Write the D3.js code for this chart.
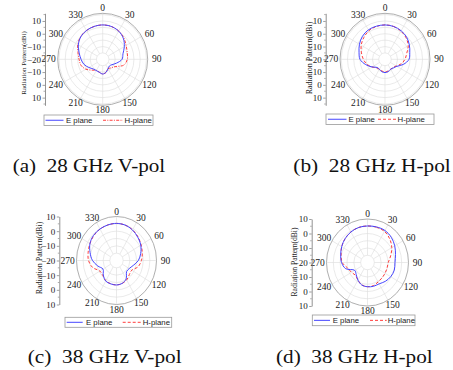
<!DOCTYPE html>
<html><head><meta charset="utf-8">
<script src="https://cdn.jsdelivr.net/npm/d3@7"></script>
<style>
html,body{margin:0;padding:0;background:#fff;}
svg{display:block;}
</style></head>
<body>
<svg id="chart" width="453" height="370"></svg>
<script>
// ---- data ----
const angles = [0,15,30,45,60,75,90,105,120,135,150,165,180,195,210,225,240,255,270,285,300,315,330,345];
const angleLabels = [0,30,60,90,120,150,180,210,240,270,300,330];
const seriesNames = ["E plane","H-plane"];
const captions = ["(a)\u00A0 28 GHz V-pol","(b)\u00A0 28 GHz H-pol","(c)\u00A0 38 GHz V-pol","(d)\u00A0 38 GHz H-pol"];
const axisTitle = "Radiation Pattern(dBi)";
const radialTickLabels = [-20,-10,0,10];

const e28V = [6.9,6.6,5.5,3.3,0.0,-3.2,-4.5,-8.5,-11.5,-12.5,-11.5,-9.5,-8.5,-9.5,-9.8,-9.3,-7.2,-4.5,-2.7,-0.5,2.5,4.8,6.0,6.6];
const h28V = [6.9,6.6,5.6,3.8,1.6,0.3,-0.3,-2.5,-8.5,-10.5,-11.5,-9.5,-8.5,-9.5,-10.0,-8.0,-4.5,-2.0,-1.1,0.5,3.0,5.0,6.0,6.6];
const e28H = [6.9,6.6,5.8,4.5,2.5,0.5,-0.8,-4.7,-9.0,-10.5,-11.0,-10.0,-9.6,-10.0,-11.0,-11.0,-8.0,-4.0,0.0,1.5,3.6,5.5,6.6,6.8];
const h28H = [6.9,6.6,5.5,3.8,1.5,-2.0,-4.0,-6.5,-9.5,-11.0,-11.0,-10.5,-10.2,-10.5,-11.0,-10.5,-8.0,-5.0,-2.7,-0.5,2.0,4.0,5.8,6.6];
const e38V = [5.3,5.0,4.0,2.5,1.0,-1.2,-3.6,-7.0,-9.0,-9.3,-5.5,-3.8,-3.3,-3.5,-3.8,-6.0,-8.3,-5.5,-2.0,0.5,3.0,4.3,4.8,5.1];
const h38V = [5.3,5.0,4.1,2.8,1.3,0.0,-1.3,-3.3,-6.8,-6.4,-4.7,-3.8,-3.3,-3.6,-4.0,-5.5,-5.6,-1.5,1.0,2.0,3.0,4.0,4.7,5.1];
const e38H = [5.2,5.4,5.5,4.6,3.0,1.2,0.1,0.3,-0.4,-1.6,-3.0,-3.0,-3.3,-3.9,-6.0,-8.3,-9.2,-3.5,-1.0,0.3,1.8,3.2,4.3,5.0];
const h38H = [5.2,5.2,4.8,3.0,0.5,-2.5,-4.8,-5.2,-5.2,-5.0,-4.5,-3.5,-3.3,-4.0,-6.0,-7.5,-6.5,-5.0,-1.5,0.0,1.8,3.2,4.3,5.0];

// ---- layout config ----
const panels = [
  {cx:102.7, cy:59.3, rx:45, ry:46, max:16, E:e28V, H:h28V, dash:"3,1.3,1,1.3",
   axisX:45, titleX:24, titleY:63, titleSize:7, cap:captions[0], capX:12.7, capW:152.5, capY:172,
   leg:{x:44,y:115,w:109,h:10.5, l1:[45.5,63.5], t1:66, l2:[103,123], t2:124.5}},
  {cx:385, cy:59.3, rx:45, ry:46, max:16, E:e28H, H:h28H, dash:"3,2",
   axisX:325.7, titleX:309, titleY:58, titleSize:8, cap:captions[1], capX:293.3, capW:157.5, capY:172,
   leg:{x:326,y:114,w:108,h:10.5, l1:[328,346.5], t1:348.5, l2:[378,396], t2:397.5}},
  {cx:116.5, cy:260.5, rx:40, ry:44, max:10, E:e38V, H:h38V, dash:"3,2",
   axisX:59.3, titleX:39.5, titleY:258, titleSize:8, cap:captions[2], capX:27.7, capW:154, capY:363.3,
   leg:{x:65,y:317.3,w:106.7,h:10, l1:[66.7,82.7], t1:86, l2:[122.7,141.7], t2:142.7}},
  {cx:367.5, cy:262.5, rx:41, ry:43.5, max:10, E:e38H, H:h38H, dash:"3,2",
   axisX:311.7, titleX:294, titleY:262, titleSize:7.6, cap:captions[3], capX:276, capW:156.7, capY:363.3,
   leg:{x:312.3,y:315,w:102.7,h:10.7, l1:[314,330], t1:332.7, l2:[370,386.7], t2:387.7}}
];

const serif = "'Liberation Serif','Times New Roman',serif";
const sans = "'Liberation Sans',Arial,sans-serif";
const blue = "#4646ff", red = "#ff3c3c";

const svg = d3.select("#chart");

panels.forEach(p => {
  const g = svg.append("g");
  const r = d3.scaleLinear().domain([-20, p.max]).range([0, 1]);
  const rad = d => d * Math.PI / 180;
  const px = (a, v) => p.cx + p.rx * r(v) * Math.sin(rad(a));
  const py = (a, v) => p.cy - p.ry * r(v) * Math.cos(rad(a));

  // grid circles
  const gridVals = d3.range(-15, p.max + 0.01, 5).filter(v => v < p.max - 0.5);
  g.selectAll(".grid").data(gridVals).join("ellipse")
    .attr("cx", p.cx).attr("cy", p.cy)
    .attr("rx", v => p.rx * r(v)).attr("ry", v => p.ry * r(v))
    .attr("fill", "none").attr("stroke", "#dcdcdc").attr("stroke-width", 0.6);
  // spokes
  g.selectAll(".spoke").data(angleLabels).join("line")
    .attr("x1", a => px(a, -15)).attr("y1", a => py(a, -15))
    .attr("x2", a => px(a, p.max)).attr("y2", a => py(a, p.max))
    .attr("stroke", "#dcdcdc").attr("stroke-width", 0.6);
  // outer circle
  g.append("ellipse").attr("cx", p.cx).attr("cy", p.cy)
    .attr("rx", p.rx).attr("ry", p.ry)
    .attr("fill", "none").attr("stroke", "#9a9a9a").attr("stroke-width", 0.8);

  // angle labels
  g.selectAll(".alab").data(angleLabels).join("text")
    .attr("x", a => p.cx + (p.rx + 9) * Math.sin(rad(a)))
    .attr("y", a => p.cy - (p.ry + 5) * Math.cos(rad(a)))
    .attr("text-anchor", "middle").attr("dominant-baseline", "central")
    .attr("font-family", serif).attr("font-size", 9.5).attr("fill", "#222")
    .text(a => a);

  // curves
  const line = d3.line().curve(d3.curveCatmullRomClosed.alpha(0.5));
  const ptsE = angles.map((a, i) => [px(a, p.E[i]), py(a, p.E[i])]);
  const ptsH = angles.map((a, i) => [px(a, p.H[i]), py(a, p.H[i])]);
  g.append("path").attr("d", line(ptsH)).attr("fill", "none")
    .attr("stroke", red).attr("stroke-width", 1).attr("stroke-dasharray", p.dash);
  g.append("path").attr("d", line(ptsE)).attr("fill", "none")
    .attr("stroke", blue).attr("stroke-width", 1);

  // radial axis (mirrored)
  const yUp = d3.scaleLinear().domain([-20, p.max]).range([p.cy, p.cy - p.ry]);
  const yDn = d3.scaleLinear().domain([-20, p.max]).range([p.cy, p.cy + p.ry]);
  const styleAxis = sel => {
    sel.select(".domain").attr("stroke", "#777").attr("stroke-width", 0.8);
    sel.selectAll(".tick line").attr("stroke", "#777").attr("stroke-width", 0.7);
    sel.selectAll(".tick text").attr("font-family", serif).attr("font-size", 9).attr("fill", "#222");
  };
  const aUp = g.append("g").attr("transform", `translate(${p.axisX},0)`)
    .call(d3.axisLeft(yUp).tickValues(radialTickLabels).tickSize(2.5).tickPadding(1.5).tickSizeOuter(0));
  const aDn = g.append("g").attr("transform", `translate(${p.axisX},0)`)
    .call(d3.axisLeft(yDn).tickValues(radialTickLabels.filter(v => v > -20)).tickSize(2.5).tickPadding(1.5).tickSizeOuter(0));
  styleAxis(aUp); styleAxis(aDn);
  // minor ticks
  const minor = d3.range(-15, p.max + 0.01, 10);
  [yUp, yDn].forEach(sc => {
    g.selectAll(null).data(minor).join("line")
      .attr("x1", p.axisX - 1.5).attr("x2", p.axisX)
      .attr("y1", v => sc(v)).attr("y2", v => sc(v))
      .attr("stroke", "#777").attr("stroke-width", 0.6);
  });

  // axis title
  g.append("text")
    .attr("transform", `translate(${p.titleX},${p.titleY}) rotate(-90)`)
    .attr("text-anchor", "middle").attr("dominant-baseline", "central")
    .attr("font-family", serif).attr("font-size", p.titleSize).attr("fill", "#222")
    .text(axisTitle);

  // legend
  const L = p.leg, ly = L.y + L.h / 2;
  g.append("rect").attr("x", L.x).attr("y", L.y).attr("width", L.w).attr("height", L.h)
    .attr("fill", "#fff").attr("stroke", "#9a9a9a").attr("stroke-width", 0.8);
  g.append("line").attr("x1", L.l1[0]).attr("x2", L.l1[1]).attr("y1", ly).attr("y2", ly)
    .attr("stroke", blue).attr("stroke-width", 1);
  g.append("line").attr("x1", L.l2[0]).attr("x2", L.l2[1]).attr("y1", ly).attr("y2", ly)
    .attr("stroke", red).attr("stroke-width", 1).attr("stroke-dasharray", p.dash);
  g.append("text").attr("x", L.t1).attr("y", ly).attr("dominant-baseline", "central")
    .attr("font-family", sans).attr("font-size", 7.8).attr("fill", "#222").text(seriesNames[0]);
  g.append("text").attr("x", L.t2).attr("y", ly).attr("dominant-baseline", "central")
    .attr("font-family", sans).attr("font-size", 7.8).attr("fill", "#222").text(seriesNames[1]);

  // caption
  svg.append("text").attr("x", p.capX).attr("y", p.capY)
    .attr("font-family", serif).attr("font-size", 18.5).attr("fill", "#111")
    .attr("textLength", p.capW).attr("lengthAdjust", "spacingAndGlyphs")
    .text(p.cap);
});
</script>
</body></html>
